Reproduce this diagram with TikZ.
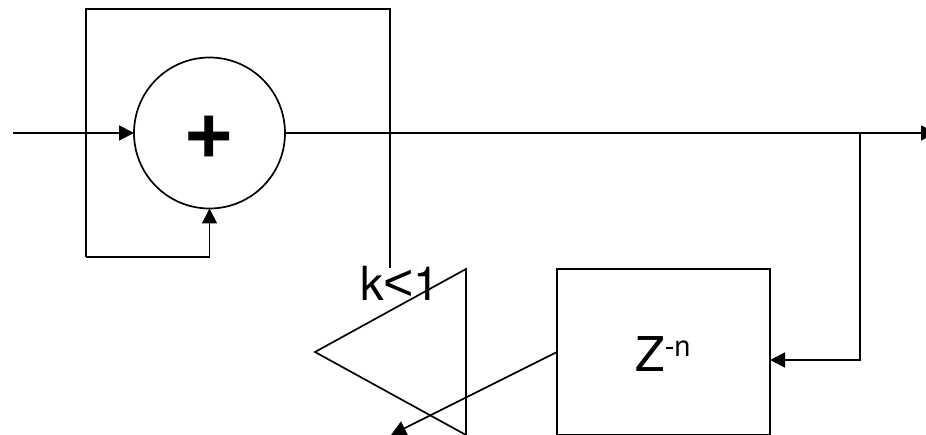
\documentclass[tikz,border=0pt]{standalone}
\usepackage{fontspec}
\setmainfont{TeX Gyre Heros}
\newfontfamily\ltfont{Liberation Sans}
\usetikzlibrary{arrows.meta}
\begin{document}
\begin{tikzpicture}[x=1pt,y=-1pt,
  line width=1.5pt,
  wire/.style={draw=black,line width=1.7pt},
  arrowwire/.style={wire,-{Triangle[length=15pt,width=15pt]}},
  block/.style={draw=black,line width=1.7pt,inner sep=0pt,outer sep=0pt}]
\useasboundingbox (0,0) rectangle (926,435);
\clip (0,0) rectangle (926,435);
\node[block,circle,minimum size=151pt] (sum) at (209.5,133) {};
\node[font=\bfseries\fontsize{88}{88}\selectfont,inner sep=0pt] (plus) at (209.5,137) {+};
\node[block,rectangle,minimum width=213pt,minimum height=166pt] (delay) at (663.5,352) {};
\node[inner sep=0pt,anchor=base] (delaytext) at (663,372) {\fontsize{48}{48}\selectfont Z\raisebox{15pt}{\fontsize{29}{29}\selectfont -n}};
\coordinate (triA) at (315,352);
\coordinate (triB) at (466,269);
\coordinate (triC) at (466,435);
\draw[wire,line join=miter] (triA) -- (triB) -- (triC) -- cycle;
\node[inner sep=0pt,anchor=base west] (gain) at (360,301) {\fontsize{47}{47}\selectfont k\kern-0.5pt{\ltfont\fontsize{52}{52}\selectfont <}\kern-1pt 1};
\coordinate (in) at (13,133);
\coordinate (out) at (936,133);
\coordinate (tap) at (860,133);
\coordinate (tl) at (86,9);
\coordinate (tr) at (390,9);
\coordinate (gainend) at (390,268);
\coordinate (bl) at (86,257);
\coordinate (dl) at (557,352);
\coordinate (arrowend) at (391,435);
\draw[arrowwire] (in) -- (sum.west);
\draw[arrowwire] (sum.east) -- (out);
\draw[arrowwire] (tap) -- (860,360) -- (delay.east |- 0,360);
\draw[wire] (gainend) -- (tr) -- (tl) -- (bl);
\draw[arrowwire] (bl) -- (bl -| sum.south) -- (sum.south);
\draw[arrowwire] (dl) -- (arrowend);
\end{tikzpicture}
\end{document}
